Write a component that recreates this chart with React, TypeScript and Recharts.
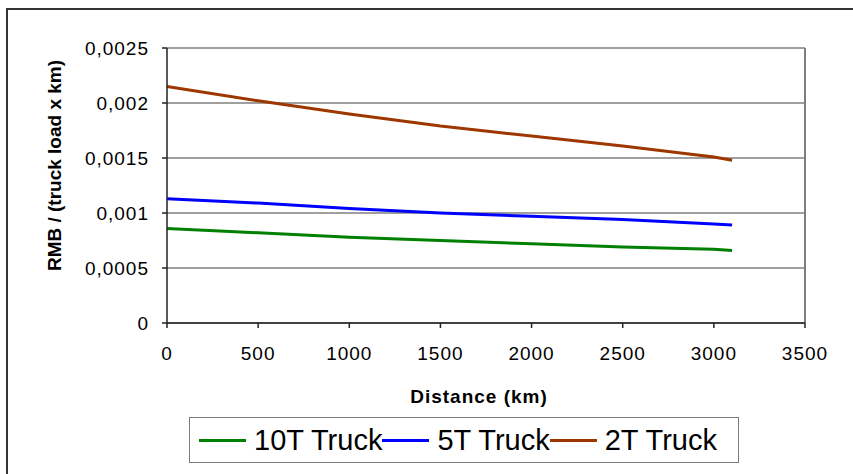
import { LineChart, Line, XAxis, YAxis, CartesianGrid, Legend, ReferenceLine } from 'recharts';

// cost per truck load and km, by distance
const distanceKm = [0, 500, 1000, 1500, 2000, 2500, 3000, 3100];
const truck10T = [0.00086, 0.00082, 0.00078, 0.00075, 0.00072, 0.00069, 0.00067, 0.00066];
const truck5T = [0.00113, 0.00109, 0.00104, 0.001, 0.00097, 0.00094, 0.0009, 0.00089];
const truck2T = [0.00215, 0.00202, 0.0019, 0.00179, 0.0017, 0.00161, 0.00151, 0.00148];

const xTicks = [0, 500, 1000, 1500, 2000, 2500, 3000, 3500];
const yTicks = [0, 0.0005, 0.001, 0.0015, 0.002, 0.0025];

const seriesNames = ['10T Truck', '5T Truck', '2T Truck'];
const seriesColors = ['#008000', '#0000ff', '#9e3600'];

const data = distanceKm.map((d, i) => ({
    distance: d,
    t10: truck10T[i],
    t5: truck5T[i],
    t2: truck2T[i],
}));

const FONT = '"Liberation Sans", Arial, sans-serif';
const tickStyle = { fill: '#000', fontSize: 19, fontFamily: FONT, letterSpacing: 1 };

const formatY = (v: number) => (v === 0 ? '0' : String(v).replace('.', ','));

// legend keeps the series order (the default payload is sorted by name)
function LegendBox() {
    return (
        <div
            style={{
                boxSizing: 'border-box',
                width: 550,
                height: 46,
                border: '1.5px solid #7a7a7a',
                display: 'flex',
                alignItems: 'center',
                paddingLeft: 9,
                fontFamily: FONT,
                fontSize: 29,
                color: '#000',
                whiteSpace: 'nowrap',
            }}
        >
            {seriesNames.map((name, i) => (
                <div key={name} style={{ display: 'flex', alignItems: 'center' }}>
                    <span style={{ display: 'inline-block', width: 47, height: 3, background: seriesColors[i] }} />
                    <span style={{ marginLeft: 8 }}>{name}</span>
                </div>
            ))}
        </div>
    );
}

export default function App() {
    return (
        <div style={{ position: 'absolute', left: 0, top: 0, width: 853, height: 474, overflow: 'hidden', background: '#fff' }}>
            <div
                style={{
                    position: 'absolute',
                    left: 6,
                    top: 8,
                    width: 900,
                    height: 520,
                    borderLeft: '2px solid #333',
                    borderTop: '2px solid #333',
                }}
            />
            <div style={{ position: 'absolute', left: 0, top: 0 }}>
                <LineChart width={853} height={474} data={data} margin={{ top: 48, right: 48, left: 0, bottom: 0 }}>
                    <CartesianGrid vertical={false} stroke="#7f7f7f" strokeWidth={1.5} />
                    <XAxis
                        dataKey="distance"
                        type="number"
                        domain={[0, 3500]}
                        ticks={xTicks}
                        height={151}
                        tick={tickStyle}
                        tickSize={5}
                        tickMargin={19}
                        axisLine={{ stroke: '#222', strokeWidth: 1.5 }}
                        tickLine={{ stroke: '#222', strokeWidth: 1.5 }}
                        label={({ viewBox }: any) => (
                            <text
                                x={viewBox.x + viewBox.width / 2 - 7}
                                y={viewBox.y + 80}
                                textAnchor="middle"
                                fontFamily={FONT}
                                fontWeight="bold"
                                fontSize={19}
                                letterSpacing={1}
                                fill="#000"
                            >
                                Distance (km)
                            </text>
                        )}
                    />
                    <YAxis
                        type="number"
                        domain={[0, 0.0025]}
                        ticks={yTicks}
                        width={167}
                        tick={tickStyle}
                        tickFormatter={formatY}
                        tickSize={5}
                        tickMargin={13}
                        axisLine={{ stroke: '#222', strokeWidth: 1.5 }}
                        tickLine={{ stroke: '#222', strokeWidth: 1.5 }}
                        label={({ viewBox }: any) => {
                            const cx = 61;
                            const cy = viewBox.y + viewBox.height / 2 - 20;
                            return (
                                <text
                                    x={cx}
                                    y={cy}
                                    transform={`rotate(-90, ${cx}, ${cy})`}
                                    textAnchor="middle"
                                    fontFamily={FONT}
                                    fontWeight="bold"
                                    fontSize={19}
                                    fill="#000"
                                >
                                    RMB / (truck load x km)
                                </text>
                            );
                        }}
                    />
                    <ReferenceLine x={3500} stroke="#7f7f7f" strokeWidth={2} />
                    <Legend
                        layout="horizontal"
                        align="center"
                        verticalAlign="middle"
                        wrapperStyle={{ left: 189, top: 417, width: 550, height: 46 }}
                        content={LegendBox}
                    />
                    <Line type="linear" dataKey="t10" name={seriesNames[0]} stroke={seriesColors[0]} strokeWidth={3} dot={false} isAnimationActive={false} />
                    <Line type="linear" dataKey="t5" name={seriesNames[1]} stroke={seriesColors[1]} strokeWidth={3} dot={false} isAnimationActive={false} />
                    <Line type="linear" dataKey="t2" name={seriesNames[2]} stroke={seriesColors[2]} strokeWidth={3} dot={false} isAnimationActive={false} />
                </LineChart>
            </div>
        </div>
    );
}
